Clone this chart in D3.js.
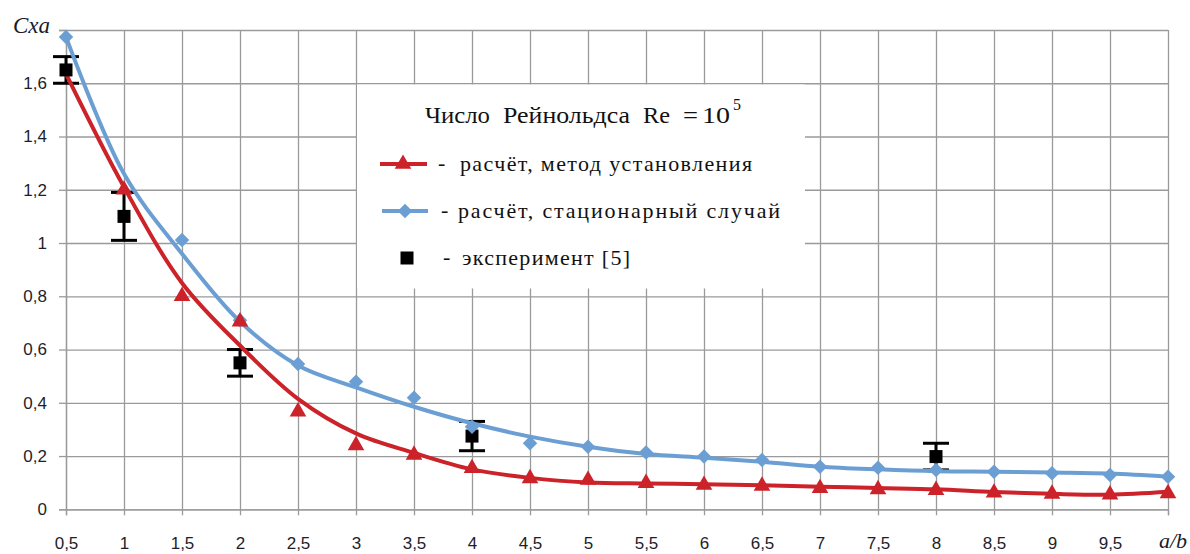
<!DOCTYPE html>
<html>
<head>
<meta charset="utf-8">
<script src="https://cdn.jsdelivr.net/npm/d3@7"></script>
<style>
  html, body { margin: 0; padding: 0; background: #fff; }
  svg { display: block; }
  .serif { font-family: "Liberation Serif", "Tinos", "Times New Roman", "DejaVu Serif", serif; }
  .sans { font-family: "Liberation Sans", Arial, sans-serif; }
</style>
</head>
<body>
<svg id="chart" width="1190" height="554"></svg>
<script>
// ---- data ----
const xValues = [0.5, 1, 1.5, 2, 2.5, 3, 3.5, 4, 4.5, 5, 5.5, 6, 6.5, 7, 7.5, 8, 8.5, 9, 9.5, 10];
// smoothed curves
const redCurve  = [1.635, 1.21, 0.85, 0.615, 0.415, 0.285, 0.212, 0.15, 0.118, 0.101, 0.097, 0.094, 0.09, 0.085, 0.08, 0.075, 0.065, 0.058, 0.055, 0.066];
const blueCurve = [1.774, 1.26, 0.96, 0.705, 0.54, 0.458, 0.385, 0.323, 0.273, 0.235, 0.208, 0.194, 0.179, 0.16, 0.15, 0.143, 0.141, 0.138, 0.134, 0.122];
// computed points (markers)
const redMarkers  = [null, 1.20, 0.80, 0.705, 0.367, 0.24, 0.204, 0.154, 0.116, 0.11, 0.098, 0.091, 0.088, 0.079, 0.075, 0.072, 0.062, 0.058, 0.055, 0.06];
const blueMarkers = [1.774, null, 1.011, 0.71, 0.546, 0.479, 0.419, 0.31, 0.248, 0.235, 0.213, 0.198, 0.185, 0.16, 0.156, 0.148, 0.141, 0.135, 0.129, 0.122];
// experiment [5]
const expX   = [0.5, 1, 2, 4, 8];
const expY   = [1.65, 1.10, 0.55, 0.275, 0.198];
const expErr = [0.05, 0.09, 0.05, 0.055, 0.05];
// ticks
const xTicks = [0.5, 1, 1.5, 2, 2.5, 3, 3.5, 4, 4.5, 5, 5.5, 6, 6.5, 7, 7.5, 8, 8.5, 9, 9.5, 10];
const xTickLabels = ["0,5", "1", "1,5", "2", "2,5", "3", "3,5", "4", "4,5", "5", "5,5", "6", "6,5", "7", "7,5", "8", "8,5", "9", "9,5", ""];
const yTicks = [0, 0.2, 0.4, 0.6, 0.8, 1, 1.2, 1.4, 1.6, 1.8];
const yTickLabels = ["0", "0,2", "0,4", "0,6", "0,8", "1", "1,2", "1,4", "1,6", ""];
const legendTitle = ["Число", "Рейнольдса", "Re", "=", "10", "5"];
const legendLabels = ["расчёт, метод установления", "расчёт, стационарный случай", "эксперимент [5]"];
const yTitle = "Cxa";
const xTitle = "a/b";

// ---- layout ----
const svg = d3.select("#chart");
const pLeft = 66, pRight = 1168, pTop = 30, pBottom = 509.3;
const x = d3.scaleLinear().domain([0.5, 10]).range([pLeft, pRight]);
const y = d3.scaleLinear().domain([0, 1.8]).range([pBottom, pTop]);

const RED = "#cc2229", BLUE = "#6b9fd4", GRID = "#9a9a9a";

// gridlines
const gx = svg.append("g").attr("transform", `translate(0,${pBottom})`)
  .call(d3.axisBottom(x).tickValues(xTicks).tickSize(-(pBottom - pTop)).tickFormat(""));
const gy = svg.append("g").attr("transform", `translate(${pLeft},0)`)
  .call(d3.axisLeft(y).tickValues(yTicks).tickSize(-(pRight - pLeft)).tickFormat(""));
[gx, gy].forEach(g => { g.select(".domain").remove(); g.selectAll("line").attr("stroke", GRID).attr("stroke-width", 1.3); });

// tick marks + labels
const ax = svg.append("g").attr("transform", `translate(0,${pBottom})`)
  .call(d3.axisBottom(x).tickValues(xTicks).tickSize(6).tickPadding(22).tickFormat((d, i) => xTickLabels[i]));
const ay = svg.append("g").attr("transform", `translate(${pLeft},0)`)
  .call(d3.axisLeft(y).tickValues(yTicks).tickSize(7).tickPadding(12).tickFormat((d, i) => yTickLabels[i]));
[ax, ay].forEach(g => {
  g.attr("font-family", null);
  g.select(".domain").attr("stroke", GRID).attr("stroke-width", 1.3);
  g.selectAll("line").attr("stroke", GRID).attr("stroke-width", 1.3);
  g.selectAll("text").attr("class", "sans").attr("font-size", 17).attr("fill", "#1e1e2a");
});

// axis titles
svg.append("text").attr("class", "serif").attr("x", 50).attr("y", 33).attr("text-anchor", "end")
  .attr("font-style", "italic").attr("font-size", 23).attr("fill", "#1a1a2a").text(yTitle);
svg.append("text").attr("class", "serif").attr("x", 1187).attr("y", 548).attr("text-anchor", "end")
  .attr("font-style", "italic").attr("font-size", 22).attr("fill", "#1a1a2a").text(xTitle);

// experiment error bars (under the curves)
const expData = expX.map((v, i) => ({ x: v, y: expY[i], e: expErr[i] }));
const eg = svg.append("g");
eg.selectAll("line.v").data(expData).join("line").attr("class", "v")
  .attr("x1", d => x(d.x)).attr("x2", d => x(d.x))
  .attr("y1", d => y(d.y + d.e)).attr("y2", d => y(d.y - d.e))
  .attr("stroke", "#000").attr("stroke-width", 3);
eg.selectAll("line.t").data(expData).join("line").attr("class", "t")
  .attr("x1", d => x(d.x) - 13).attr("x2", d => x(d.x) + 13)
  .attr("y1", d => y(d.y + d.e)).attr("y2", d => y(d.y + d.e))
  .attr("stroke", "#000").attr("stroke-width", 3);
eg.selectAll("line.b").data(expData).join("line").attr("class", "b")
  .attr("x1", d => x(d.x) - 13).attr("x2", d => x(d.x) + 13)
  .attr("y1", d => y(d.y - d.e)).attr("y2", d => y(d.y - d.e))
  .attr("stroke", "#000").attr("stroke-width", 3);

// curves
const redPts = xValues.map((v, i) => [v, redCurve[i]]);
const bluePts = xValues.map((v, i) => [v, blueCurve[i]]);
const line = d3.line().x(d => x(d[0])).y(d => y(d[1])).curve(d3.curveCatmullRom.alpha(0.5));
svg.append("path").datum(redPts).attr("d", line).attr("fill", "none").attr("stroke", RED).attr("stroke-width", 4).attr("stroke-linejoin", "round");
svg.append("path").datum(bluePts).attr("d", line).attr("fill", "none").attr("stroke", BLUE).attr("stroke-width", 4).attr("stroke-linejoin", "round");

// experiment squares
svg.append("g").selectAll("path").data(expData).join("path")
  .attr("d", d3.symbol(d3.symbolSquare, 169)())
  .attr("transform", d => `translate(${x(d.x)},${y(d.y)})`).attr("fill", "#000");

// blue diamonds
const diamond = d3.symbol(d3.symbolSquare, 105)();
svg.append("g").selectAll("path")
  .data(xValues.map((v, i) => [v, blueMarkers[i]]).filter(d => d[1] != null)).join("path")
  .attr("d", diamond).attr("transform", d => `translate(${x(d[0])},${y(d[1])}) rotate(45)`).attr("fill", BLUE);

// red triangles
const tri = d3.symbol(d3.symbolTriangle, 120)();
svg.append("g").selectAll("path")
  .data(xValues.map((v, i) => [v, redMarkers[i]]).filter(d => d[1] != null)).join("path")
  .attr("d", tri).attr("transform", d => `translate(${x(d[0])},${y(d[1])})`).attr("fill", RED);

// legend
const lg = svg.append("g");
lg.append("rect").attr("x", 357).attr("y", 84.5).attr("width", 448).attr("height", 204).attr("fill", "#fff");
const titleX = [425, 503, 643, 683, 702];
const titleW = [65, 127, 27, 15, 28];
legendTitle.slice(0, 5).forEach((s, i) => {
  lg.append("text").attr("class", "serif").attr("x", titleX[i]).attr("y", 123).attr("font-size", 23).attr("fill", "#111")
    .attr("textLength", titleW[i]).attr("lengthAdjust", "spacingAndGlyphs").text(s);
});
lg.append("text").attr("class", "serif").attr("x", 733).attr("y", 110).attr("font-size", 16).attr("fill", "#111").text(legendTitle[5]);

const rowsY = [164, 211, 258];
// row 1
lg.append("line").attr("x1", 380).attr("x2", 427).attr("y1", rowsY[0]).attr("y2", rowsY[0]).attr("stroke", RED).attr("stroke-width", 4);
lg.append("path").attr("d", tri).attr("transform", `translate(403,${rowsY[0]})`).attr("fill", RED);
// row 2
lg.append("line").attr("x1", 382).attr("x2", 428).attr("y1", rowsY[1]).attr("y2", rowsY[1]).attr("stroke", BLUE).attr("stroke-width", 4);
lg.append("path").attr("d", diamond).attr("transform", `translate(405,${rowsY[1]}) rotate(45)`).attr("fill", BLUE);
// row 3
lg.append("path").attr("d", d3.symbol(d3.symbolSquare, 169)()).attr("transform", `translate(407,${rowsY[2]})`).attr("fill", "#000");

const dashX = [438, 441, 443];
const textX = [460, 458, 462];
const textW = [292, 322, 168];
legendLabels.forEach((s, i) => {
  lg.append("text").attr("class", "serif").attr("x", dashX[i]).attr("y", rowsY[i] + 6).attr("font-size", 22).attr("fill", "#111").text("-");
  lg.append("text").attr("class", "serif").attr("x", textX[i]).attr("y", rowsY[i] + 7).attr("font-size", 22).attr("fill", "#111")
    .attr("textLength", textW[i]).attr("lengthAdjust", "spacing").text(s);
});
</script>
</body>
</html>
